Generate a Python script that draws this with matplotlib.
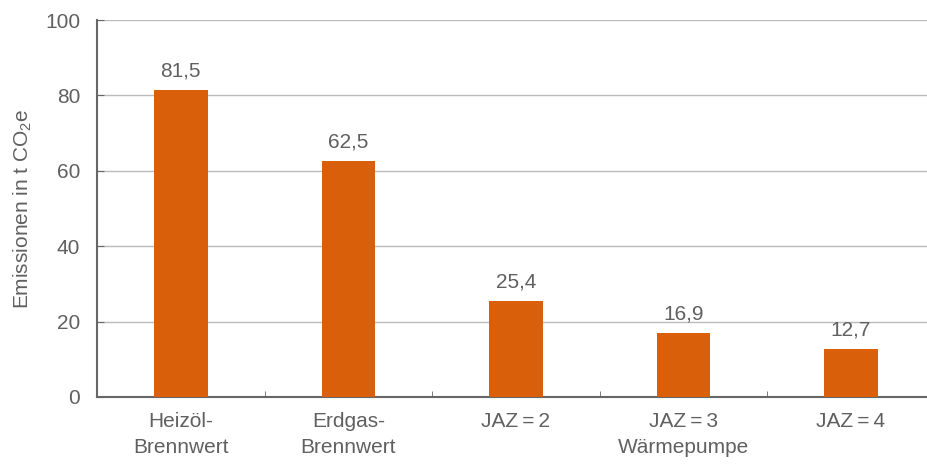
import matplotlib
matplotlib.use("Agg")
import matplotlib.pyplot as plt

plt.rcParams['font.family'] = ['Liberation Sans', 'DejaVu Sans']
plt.rcParams['mathtext.fontset'] = 'custom'
plt.rcParams['mathtext.rm'] = 'Liberation Sans'
plt.rcParams['mathtext.it'] = 'Liberation Sans'

# Daten
kategorien = ["Heizöl-\nBrennwert", "Erdgas-\nBrennwert", "JAZ\u2009=\u20092",
              "JAZ\u2009=\u20093\nWärmepumpe", "JAZ\u2009=\u20094"]
emissionen = [81.5, 62.5, 25.4, 16.9, 12.7]
y_ticks = [0, 20, 40, 60, 80, 100]

txt = '#606060'
fs = 15
fig = plt.figure(figsize=(9.28, 4.66), dpi=100)
ax = fig.add_axes([97/928, 1 - 397/466, (928 - 97)/928, (397 - 20)/466])

x = range(len(emissionen))
ax.bar(x, emissionen, width=0.32, color='#d95f0b', zorder=3)
for i, v in enumerate(emissionen):
    ax.annotate(f"{v:.1f}".replace('.', ','), (i, v), xytext=(0, 7), textcoords='offset points',
                ha='center', va='bottom', fontsize=fs, color=txt)

ax.set_ylim(0, 100)
ax.set_xlim(-0.5, 4.46)
ax.set_yticks(y_ticks)
ax.yaxis.grid(True, color='#bbbbbb', linewidth=1, zorder=0)
ax.set_xticks(list(x))
ax.set_xticklabels(kategorien, fontsize=fs, color=txt, linespacing=1.45)
ax.set_xticks([0.5, 1.5, 2.5, 3.5], minor=True)
ax.tick_params(axis='x', which='major', length=0, pad=11)
ax.tick_params(axis='x', which='minor', direction='in', length=4, color='#666666')
ax.tick_params(axis='y', direction='in', length=5, color='#666666', labelsize=fs, labelcolor=txt, pad=12)
ax.set_ylabel("Emissionen in t CO$_2$e", fontsize=fs, color=txt, labelpad=8)

for s in ['top', 'right']:
    ax.spines[s].set_visible(False)
for s in ['left', 'bottom']:
    ax.spines[s].set_color('#666666')
    ax.spines[s].set_linewidth(1.5)

fig.savefig("out.png", dpi=100)
